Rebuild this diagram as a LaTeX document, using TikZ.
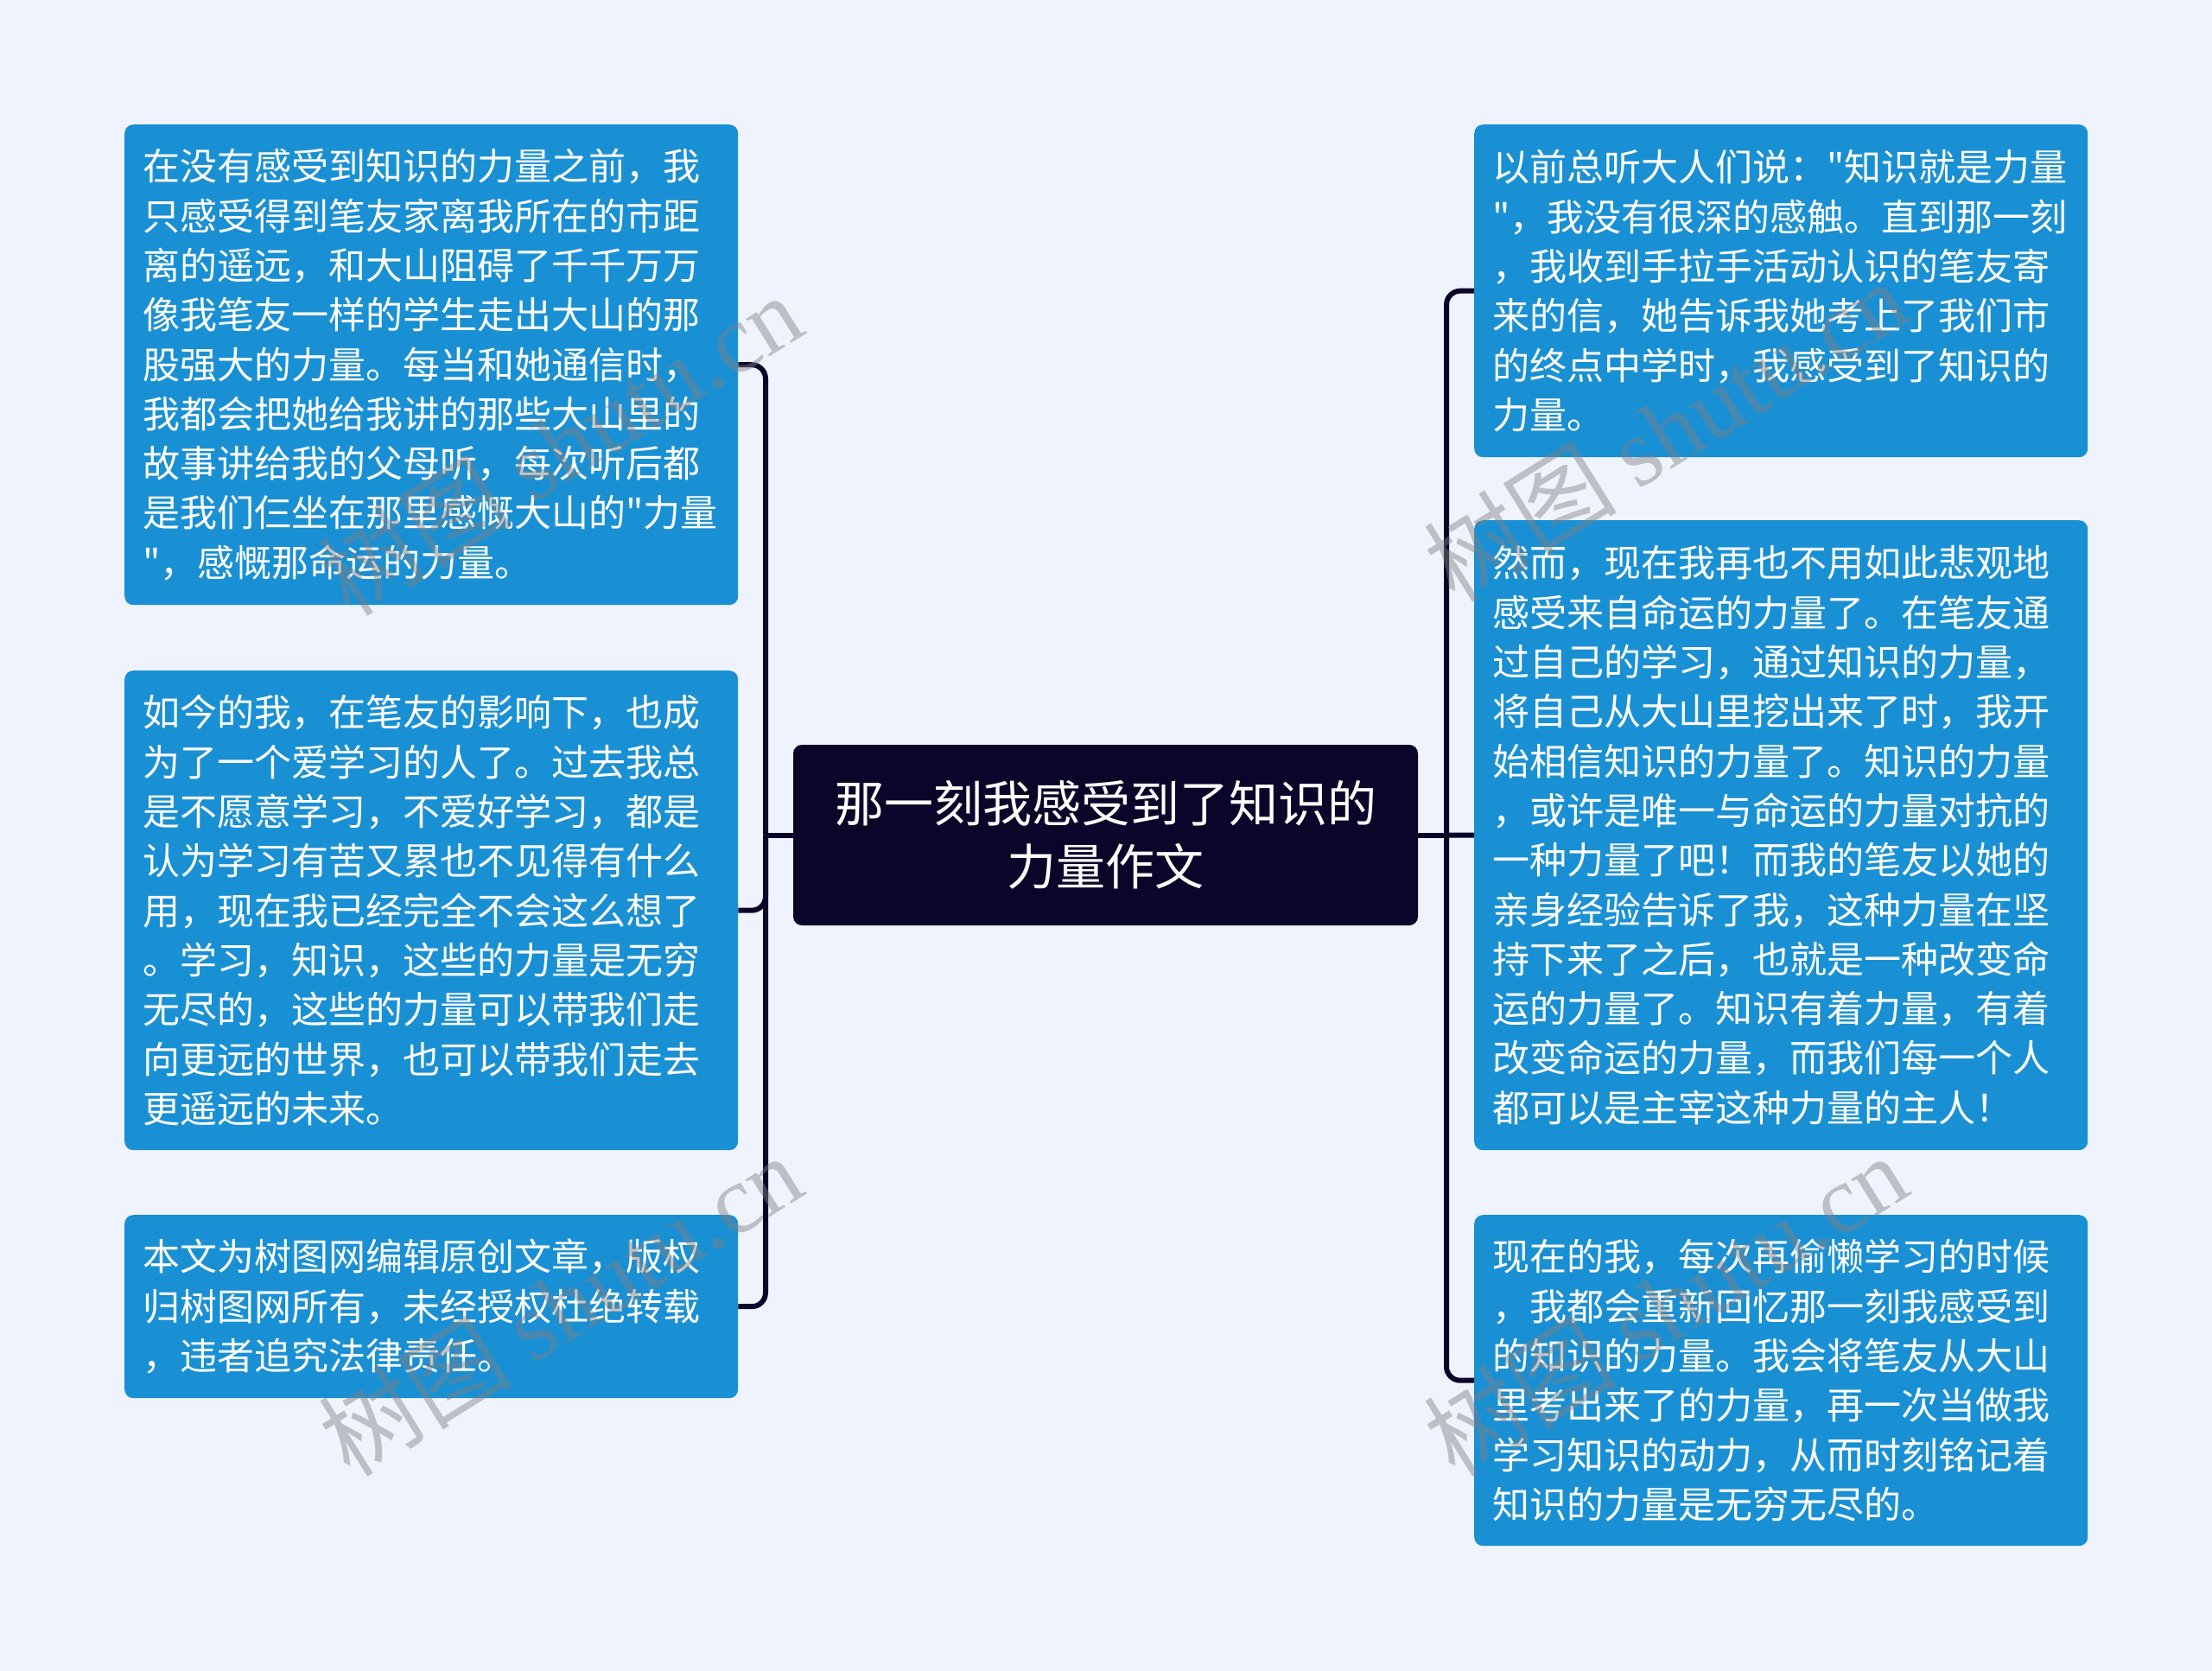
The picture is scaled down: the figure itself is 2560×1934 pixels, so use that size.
\documentclass[tikz,border=0pt]{standalone}
\usepackage{fontspec}
\setmainfont[Ligatures=TeXOff]{Noto Sans CJK SC}
\newfontfamily\wmlatin{Liberation Serif}
\definecolor{bg}{HTML}{EEF3FE}
\definecolor{boxblue}{HTML}{1A90D4}
\definecolor{navy}{HTML}{0B0629}
\begin{document}
\begin{tikzpicture}[x=1pt,y=-1pt,
  leaf/.style={fill=boxblue, rounded corners=10pt, text=white, anchor=north west,
    align=left, inner xsep=21pt, inner ysep=0pt, text width=668pt,
    font=\fontsize{43}{57.3}\selectfont},
  root/.style={fill=navy, rounded corners=10pt, text=white, align=center,
    font=\fontsize{57}{73.5}\selectfont, minimum width=723pt, minimum height=209pt, inner sep=0pt},
  link/.style={draw=navy, line width=6pt},
  wm/.style={text=gray, opacity=0.45, rotate=32, inner sep=0pt, font=\fontsize{112}{112}\selectfont}
]
\fill[bg] (0,0) rectangle (2560,1934);
\useasboundingbox (0,0) rectangle (2560,1934);

\node[root] (root) at (1279.5,966.5) {那一刻我感受到了知识的\\力量作文};

\node[leaf, minimum height=556pt] (l1) at (144,144) {在没有感受到知识的力量之前，我\\只感受得到笔友家离我所在的市距\\离的遥远，和大山阻碍了千千万万\\像我笔友一样的学生走出大山的那\\股强大的力量。每当和她通信时，\\我都会把她给我讲的那些大山里的\\故事讲给我的父母听，每次听后都\\是我们仨坐在那里感慨大山的"力量\\"，感慨那命运的力量。};

\node[leaf, minimum height=555pt] (l2) at (144,776) {如今的我，在笔友的影响下，也成\\为了一个爱学习的人了。过去我总\\是不愿意学习，不爱好学习，都是\\认为学习有苦又累也不见得有什么\\用，现在我已经完全不会这么想了\\。学习，知识，这些的力量是无穷\\无尽的，这些的力量可以带我们走\\向更远的世界，也可以带我们走去\\更遥远的未来。};

\node[leaf, minimum height=212pt] (l3) at (144,1406) {本文为树图网编辑原创文章，版权\\归树图网所有，未经授权杜绝转载\\，违者追究法律责任。};

\node[leaf, minimum height=385pt] (r1) at (1706,144) {以前总听大人们说："知识就是力量\\"，我没有很深的感触。直到那一刻\\，我收到手拉手活动认识的笔友寄\\来的信，她告诉我她考上了我们市\\的终点中学时，我感受到了知识的\\力量。};

\node[leaf, minimum height=729pt] (r2) at (1706,602) {然而，现在我再也不用如此悲观地\\感受来自命运的力量了。在笔友通\\过自己的学习，通过知识的力量，\\将自己从大山里挖出来了时，我开\\始相信知识的力量了。知识的力量\\，或许是唯一与命运的力量对抗的\\一种力量了吧！而我的笔友以她的\\亲身经验告诉了我，这种力量在坚\\持下来了之后，也就是一种改变命\\运的力量了。知识有着力量，有着\\改变命运的力量，而我们每一个人\\都可以是主宰这种力量的主人！};

\node[leaf, minimum height=383pt] (r3) at (1706,1406) {现在的我，每次再偷懒学习的时候\\，我都会重新回忆那一刻我感受到\\的知识的力量。我会将笔友从大山\\里考出来了的力量，再一次当做我\\学习知识的动力，从而时刻铭记着\\知识的力量是无穷无尽的。};

\coordinate (jl) at (886,966.5);
\coordinate (jr) at (1674,966.5);
\draw[link] (root.west) -- (jl);
\draw[link, rounded corners=16pt] (jl) |- (l1.east);
\draw[link, rounded corners=16pt] (jl) |- (l2.east);
\draw[link, rounded corners=16pt] (jl) |- (l3.east);
\draw[link] (root.east) -- (jr);
\draw[link, rounded corners=16pt] (jr) |- (r1.west);
\draw[link] (jr) -- (r2.west);
\draw[link, rounded corners=16pt] (jr) |- (r3.west);

\node[wm] (wm1) at (648,514) {树图 {\wmlatin shutu.cn}};
\node[wm] (wm2) at (1927,498) {树图 {\wmlatin shutu.cn}};
\node[wm] (wm3) at (648,1510) {树图 {\wmlatin shutu.cn}};
\node[wm] (wm4) at (1927,1510) {树图 {\wmlatin shutu.cn}};
\end{tikzpicture}
\end{document}
